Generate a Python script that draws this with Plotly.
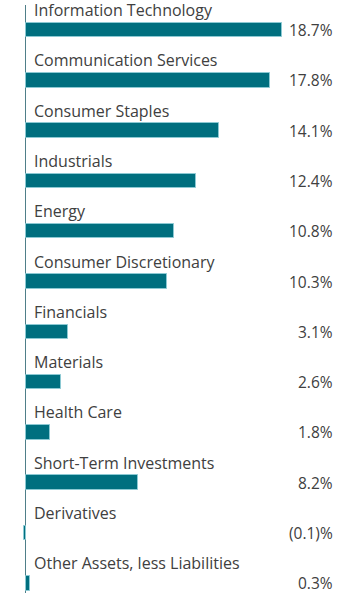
import plotly.graph_objects as go

categories = ["Information Technology", "Communication Services", "Consumer Staples",
              "Industrials", "Energy", "Consumer Discretionary", "Financials",
              "Materials", "Health Care", "Short-Term Investments", "Derivatives",
              "Other Assets, less Liabilities"]
values = [18.7, 17.8, 14.1, 12.4, 10.8, 10.3, 3.1, 2.6, 1.8, 8.2, -0.1, 0.3]
value_labels = ["18.7%", "17.8%", "14.1%", "12.4%", "10.8%", "10.3%", "3.1%",
                "2.6%", "1.8%", "8.2%", "(0.1)%", "0.3%"]

W, H = 360, 597
FONT = "Open Sans"
TXT = "#404040"

fig = go.Figure(go.Bar(
    y=categories, x=values, orientation="h", width=0.29,
    marker=dict(color="#006f7f", line=dict(color="#8cc9d3", width=1)),
    hoverinfo="skip",
))

ann = []
for c, lab in zip(categories, value_labels):
    ann.append(dict(x=0, y=c, xref="x", yref="y", text=c, showarrow=False,
                    xanchor="left", yanchor="middle", xshift=6, yshift=20,
                    font=dict(family=FONT, size=16, color=TXT)))
    ann.append(dict(x=335 / W, y=c, xref="paper", yref="y", text=lab,
                    showarrow=False, xanchor="right", yanchor="middle",
                    font=dict(family=FONT, size=15.5, color=TXT)))

px_per = 13.74
zero_px = 25.5
x0 = -zero_px / px_per
x1 = (W - zero_px) / px_per

top, bot = 5, 593
sp = 50.3
c0 = 30
r_top = (top - c0) / sp
r_bot = (bot - c0) / sp

fig.update_layout(
    width=W, height=H,
    margin=dict(l=0, r=0, t=top, b=H - bot, pad=0),
    paper_bgcolor="white", plot_bgcolor="white",
    showlegend=False,
    bargap=0,
    hovermode=False,
    xaxis=dict(range=[x0, x1], showgrid=False, showticklabels=False, ticks="",
               zeroline=True, zerolinecolor="#4f7f89", zerolinewidth=1,
               showline=False),
    yaxis=dict(range=[r_bot, r_top], showgrid=False, showticklabels=False, ticks="",
               zeroline=False, showline=False, categoryorder="array",
               categoryarray=categories),
    annotations=ann,
)

fig.write_html("out.html", config={"displayModeBar": False},
               post_script="document.body.style.margin='0';document.body.style.overflow='hidden';")
